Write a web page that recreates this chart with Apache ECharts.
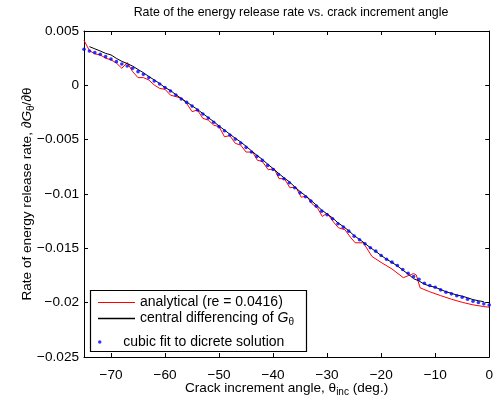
<!DOCTYPE html>
<html>
<head>
<meta charset="utf-8">
<script src="https://cdn.jsdelivr.net/npm/echarts@6/dist/echarts.min.js"></script>
<style>html,body{margin:0;padding:0;background:#fff;}#c{width:496px;height:402px;}</style>
</head>
<body>
<div id="c"></div>
<script>
// ---- data ----
var titleText = 'Rate of the energy release rate vs. crack increment angle';
var seriesNames = ['analytical (re = 0.0416)', 'central differencing of G_θ', 'cubic fit to dicrete solution'];

var xTicks = [-70, -60, -50, -40, -30, -20, -10, 0];
var xTickLabels = ['\u221270', '\u221260', '\u221250', '\u221240', '\u221230', '\u221220', '\u221210', '0'];
var yTicks = [-0.025, -0.02, -0.015, -0.01, -0.005, 0, 0.005];
var yTickLabels = ['\u22120.025', '\u22120.02', '\u22120.015', '\u22120.01', '\u22120.005', '0', '0.005'];

var redAngles = [-75, -74, -73, -72, -71, -70, -69, -68, -67, -66, -65, -64, -63, -62, -61, -60, -59, -58, -57, -56,
  -55, -54, -53, -52, -51, -50, -49, -48, -47, -46, -45, -43.8, -42.9, -42, -40.9, -39.8, -38.9, -37.9, -36.9, -35.8,
  -34.8, -33.8, -32.8, -31.8, -30.9, -30, -28.8, -27.9, -26.7, -25.7, -24.8, -23.3, -21.7, -20, -18, -15.9, -14, -13.5,
  -12.8, -11, -9, -7, -5, -3, -1, 0];
var redValues = [0.00414, 0.00320, 0.00290, 0.00280, 0.00250, 0.00235, 0.00205, 0.00157, 0.00209, 0.00126,
  0.00071, 0.00071, 0.00049, 0.00003, -0.00028, -0.00037, -0.00090, -0.00104, -0.00118, -0.00166,
  -0.00242, -0.00227, -0.00304, -0.00320, -0.00366, -0.00380, -0.00473, -0.00463, -0.00534, -0.00550,
  -0.00614, -0.00614, -0.00690, -0.00700, -0.00777, -0.00767, -0.00859, -0.00859, -0.00942, -0.00937,
  -0.01029, -0.01020, -0.01090, -0.01127, -0.01207, -0.01176, -0.01259, -0.01311, -0.01329, -0.01397,
  -0.01449, -0.01449, -0.01575, -0.01630, -0.01690, -0.01770, -0.01732, -0.01745, -0.01863, -0.01900,
  -0.01935, -0.01968, -0.01997, -0.02020, -0.02036, -0.02042];

var blackAngles = [-74, -73, -72, -71, -70, -69, -68, -67, -66, -65, -64, -63, -62, -61, -60, -59, -58, -57, -56, -55,
  -54, -53, -52, -51, -50, -49, -48, -47, -46, -45, -44, -43, -42, -41, -40, -39, -38, -37, -36, -35,
  -34, -33, -32, -31, -30, -29, -28, -27, -26, -25, -24, -23, -22, -21, -20, -19, -18, -17, -16, -15,
  -14, -13, -12, -11, -10, -9, -8, -7, -6, -5, -4, -3, -2, -1];
var blackValues = [0.00356, 0.00336, 0.00316, 0.00294, 0.00280, 0.00248, 0.00221, 0.00200, 0.00177, 0.00146,
  0.00116, 0.00081, 0.00050, 0.00017, -0.00021, -0.00047, -0.00086, -0.00121, -0.00154, -0.00188,
  -0.00222, -0.00260, -0.00297, -0.00334, -0.00374, -0.00412, -0.00450, -0.00487, -0.00521, -0.00561,
  -0.00603, -0.00644, -0.00681, -0.00726, -0.00766, -0.00810, -0.00850, -0.00887, -0.00934, -0.00978,
  -0.01016, -0.01058, -0.01102, -0.01148, -0.01184, -0.01220, -0.01265, -0.01300, -0.01338, -0.01383,
  -0.01418, -0.01455, -0.01494, -0.01528, -0.01566, -0.01600, -0.01630, -0.01662, -0.01700, -0.01737,
  -0.01779, -0.01800, -0.01830, -0.01847, -0.01858, -0.01879, -0.01899, -0.01914, -0.01930, -0.01940,
  -0.01955, -0.01972, -0.01982, -0.01991];

var blueAngles = [-75, -74, -73, -72, -71, -70, -69, -68, -67, -66, -65, -64, -63, -62, -61, -60, -59, -58, -57, -56,
  -55, -54, -53, -52, -51, -50, -49, -48, -47, -46, -45, -44, -43, -42, -41, -40, -39, -38, -37, -36,
  -35, -34, -33, -32, -31, -30, -29, -28, -27, -26, -25, -24, -23, -22, -21, -20, -19, -18, -17, -16,
  -15, -14, -13, -12, -11, -10, -9, -8, -7, -6, -5, -4, -3, -2, -1, 0];
var blueValues = [0.00332, 0.00316, 0.00301, 0.00286, 0.00264, 0.00242, 0.00218, 0.00196, 0.00178, 0.00157,
  0.00126, 0.00101, 0.00071, 0.00040, 0.00012, -0.00021, -0.00052, -0.00089, -0.00126, -0.00157,
  -0.00191, -0.00227, -0.00264, -0.00300, -0.00340, -0.00380, -0.00418, -0.00457, -0.00495, -0.00530,
  -0.00571, -0.00614, -0.00654, -0.00691, -0.00737, -0.00774, -0.00820, -0.00859, -0.00896, -0.00942,
  -0.00988, -0.01025, -0.01066, -0.01112, -0.01158, -0.01191, -0.01228, -0.01274, -0.01305, -0.01342,
  -0.01388, -0.01421, -0.01458, -0.01495, -0.01526, -0.01566, -0.01600, -0.01627, -0.01658, -0.01695,
  -0.01729, -0.01759, -0.01784, -0.01821, -0.01842, -0.01858, -0.01882, -0.01904, -0.01919, -0.01937,
  -0.01950, -0.01968, -0.01987, -0.01999, -0.02011, -0.02022];

function pairs(xs, ys) { var out = []; for (var i = 0; i < xs.length; i++) out.push([xs[i], ys[i]]); return out; }
function lookup(ticks, labels, v) { for (var i = 0; i < ticks.length; i++) if (Math.abs(ticks[i] - v) < 1e-9) return labels[i]; return ''; }

var FONT = 'Liberation Sans, Arial, Helvetica, sans-serif';
var FS = 13.6;     // ticks and axis names
var FS_T = 12.4;   // title
var FS_L = 14;     // legend
function mkRich(fs) {
  return {
    g: { fontFamily: FONT, fontSize: fs, fontStyle: 'italic', color: '#000' },
    sub: { fontFamily: FONT, fontSize: 10, color: '#000', padding: [8, 0, 0, 0] }
  };
}

var chart = echarts.init(document.getElementById('c'), null, { renderer: 'canvas' });

function legendFmt(name) {
  if (name === seriesNames[1]) return 'central differencing of {g|G}{sub|\u03b8}';
  return name;
}
var legendText = { fontFamily: FONT, fontSize: FS_L, color: '#000', rich: mkRich(FS_L) };

var axisLine = { show: true, onZero: false, lineStyle: { color: '#000', width: 1 } };
var tick = { show: true, inside: true, length: 4, lineStyle: { color: '#000', width: 1 } };

chart.setOption({
  animation: false,
  backgroundColor: '#fff',
  title: {
    text: titleText, left: 286, top: 2, textAlign: 'center',
    textStyle: { fontFamily: FONT, fontSize: FS_T, fontWeight: 'normal', color: '#000' }
  },
  grid: { left: 84, right: 6, top: 31, bottom: 45, containLabel: false },
  xAxis: [{
    type: 'value', min: -75, max: 0, position: 'bottom',
    axisLine: axisLine,
    axisTick: Object.assign({}, tick, { customValues: xTicks }),
    axisLabel: { customValues: xTicks, margin: 11, color: '#000', fontFamily: FONT, fontSize: FS,
      formatter: function (v) { return lookup(xTicks, xTickLabels, v); } },
    splitLine: { show: false },
    name: 'Crack increment angle, \u03b8{sub|inc} (deg.)', nameLocation: 'middle', nameGap: 22,
    nameMoveOverlap: false,
    nameTextStyle: { fontFamily: FONT, fontSize: FS, color: '#000', rich: mkRich(FS) }
  }, {
    type: 'value', min: -75, max: 0, position: 'top',
    axisLine: axisLine,
    axisTick: Object.assign({}, tick, { customValues: xTicks }),
    axisLabel: { show: false }, splitLine: { show: false }
  }],
  yAxis: [{
    type: 'value', min: -0.025, max: 0.005, interval: 0.005, position: 'left',
    axisLine: axisLine, axisTick: tick,
    axisLabel: { margin: 5, color: '#000', fontFamily: FONT, fontSize: FS,
      formatter: function (v) { return lookup(yTicks, yTickLabels, v); } },
    splitLine: { show: false },
    name: 'Rate of energy release rate, \u2202{g|G}{sub|\u03b8}/\u2202\u03b8', nameLocation: 'middle', nameGap: 48,
    nameMoveOverlap: false,
    nameTextStyle: { fontFamily: FONT, fontSize: FS, color: '#000', rich: mkRich(FS) }
  }, {
    type: 'value', min: -0.025, max: 0.005, interval: 0.005, position: 'right',
    axisLine: axisLine, axisTick: tick, axisLabel: { show: false }, splitLine: { show: false }
  }],
  legend: [
    { data: [seriesNames[0]], left: 98, top: 295.5, itemWidth: 37, itemHeight: 1.2, itemGap: 0, padding: 0,
      icon: 'rect', formatter: legendFmt, textStyle: legendText, z: 10 },
    { data: [seriesNames[1]], left: 98, top: 311.5, itemWidth: 37, itemHeight: 1.6, itemGap: 0, padding: 0,
      icon: 'rect', formatter: legendFmt, textStyle: legendText, z: 10 },
    { data: [seriesNames[2]], left: 98, top: 335, itemWidth: 37, itemHeight: 3.5, itemGap: 0, padding: 0,
      icon: 'circle', symbolKeepAspect: true,
      formatter: legendFmt, textStyle: legendText, z: 10 }
  ],
  graphic: [{
    type: 'rect', z: 5, silent: true,
    shape: { x: 90.5, y: 290.5, width: 216, height: 61 },
    style: { fill: '#fff', stroke: '#000', lineWidth: 1.2 }
  }],
  series: [{
    name: seriesNames[0], type: 'line', data: pairs(redAngles, redValues),
    symbol: 'none', lineStyle: { color: '#ff0000', width: 1 }, itemStyle: { color: '#ff0000' }, z: 2
  }, {
    name: seriesNames[1], type: 'line', data: pairs(blackAngles, blackValues),
    symbol: 'none', lineStyle: { color: '#000000', width: 1 }, itemStyle: { color: '#000000' }, z: 3
  }, {
    name: seriesNames[2], type: 'scatter', data: pairs(blueAngles, blueValues),
    symbol: 'circle', symbolSize: 3.6, itemStyle: { color: '#0000ff' }, z: 4
  }]
});
</script>
</body>
</html>
